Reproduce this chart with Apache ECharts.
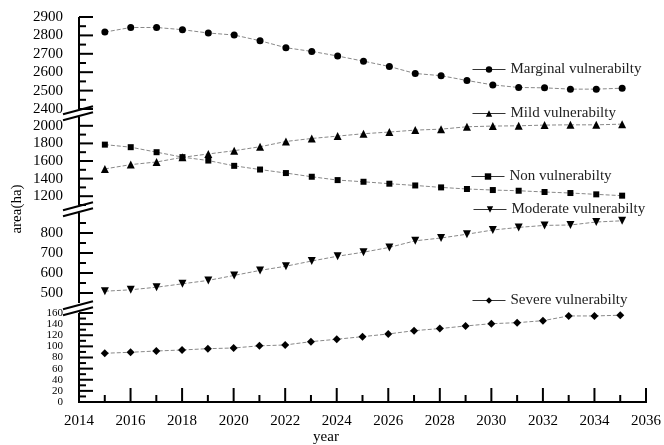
<!DOCTYPE html>
<html><head><meta charset="utf-8">
<script src="https://cdn.jsdelivr.net/npm/echarts@6/dist/echarts.min.js"></script>
<style>html,body{margin:0;padding:0;background:#fff}#c{width:664px;height:445px}</style>
</head><body><div id="c"></div>
<script>
// ---- data ----
const years = [2015,2016,2017,2018,2019,2020,2021,2022,2023,2024,2025,2026,2027,2028,2029,2030,2031,2032,2033,2034,2035];
const marginal = [2818,2843,2843,2831,2813,2802,2771,2733,2713,2688,2660,2631,2593,2581,2555,2531,2517,2515,2508,2508,2513];
const mild = [1510,1559,1589,1642,1680,1717,1762,1822,1856,1883,1910,1929,1951,1962,1989,1997,2000,2008,2011,2011,2019];
const nonV = [1786,1757,1700,1644,1605,1545,1503,1463,1421,1383,1364,1342,1322,1300,1282,1270,1262,1248,1236,1221,1206];
const moderate = [509,516,529,546,563,588,613,634,660,684,704,728,761,775,794,815,828,838,840,855,861];
const severe = [87.6,89.4,91.7,93.5,95.9,97.1,101,102.5,108.5,112.8,117.5,122.3,128.2,132,136.7,140.8,142.6,146.2,154.7,154.7,156];
const seriesNames = ['Marginal vulnerabilty','Mild vulnerabilty','Non vulnerabilty','Moderate vulnerabilty','Severe vulnerabilty'];

const xMajor = [2014,2016,2018,2020,2022,2024,2026,2028,2030,2032,2034,2036];
const xMinor = [2015,2017,2019,2021,2023,2025,2027,2029,2031,2033,2035];
const seg1Labels = [2400,2500,2600,2700,2800,2900];
const seg1Minor = [2450,2550,2650,2750,2850];
const seg2Labels = [1200,1400,1600,1800,2000];
const seg2Minor = [1100,1300,1500,1700,1900];
const seg3Labels = [500,600,700,800];
const seg3Minor = [550,650,750,850];
const seg4Labels = [0,20,40,60,80,100,120,140,160];
const seg4Minor = [10,30,50,70,90,110,130,150];

// ---- layout ----
const FONT = 'Liberation Serif';
const L = 79, W = 569;
const segs = [
  {min:2400, max:2900, top:17,  h:92, labels:seg1Labels, minor:seg1Minor, fs:15},
  {min:1100, max:2100, top:117, h:88, labels:seg2Labels, minor:seg2Minor, fs:15},
  {min:450,  max:900,  top:213, h:90, labels:seg3Labels, minor:seg3Minor, fs:15},
  {min:0,    max:160,  top:313, h:89, labels:seg4Labels, minor:seg4Minor, fs:11}
];

const grids = [], xAxes = [], yAxes = [];
segs.forEach((s, i) => {
  grids.push({left:L, width:W, top:s.top, height:s.h});
  const last = i === segs.length - 1;
  xAxes.push({
    gridIndex:i, type:'value', min:2014, max:2036, interval:2, show:last,
    axisLine:{show:false}, axisTick:{show:false}, minorTick:{show:false},
    axisLabel:{margin:12, color:'#000', fontFamily:FONT, fontSize:15, formatter: v => String(v),
      showMinLabel:true, showMaxLabel:true},
    splitLine:{show:false}, minorSplitLine:{show:false}
  });
  yAxes.push({
    gridIndex:i, type:'value', min:s.min, max:s.max, position:'left', offset:0,
    axisLine:{show:false}, axisTick:{show:false},
    axisLabel:{show:true, margin:16, color:'#000', fontFamily:FONT, fontSize:s.fs, lineHeight:s.fs - 2,
      customValues:s.labels, formatter: v => String(v), hideOverlap:false},
    splitLine:{show:false}
  });
});

const seriesData = [marginal, mild, nonV, moderate, severe];
const seriesGrid = [0, 1, 1, 2, 3];
const symbols = ['circle','triangle','rect','triangle','diamond'];
const symSizes = [7, 8, 6, 8, 8];
const symRot = [0, 0, 0, 180, 0];

const series = seriesData.map((vals, k) => ({
  name: seriesNames[k], type:'line',
  xAxisIndex: seriesGrid[k], yAxisIndex: seriesGrid[k],
  data: years.map((y, j) => [y, vals[j]]),
  symbol: symbols[k], symbolSize: symSizes[k], symbolRotate: symRot[k],
  lineStyle:{color:'#888', width:1, type:[4,2]},
  itemStyle:{color:'#000'}
}));

const legendPos = [[472,62],[472,106],[471,169],[473,202],[472,293]];
const legends = seriesNames.map((n, k) => ({
  data:[n], left:legendPos[k][0], top:legendPos[k][1], padding:0,
  itemWidth:33, itemHeight:8, selectedMode:false,
  lineStyle:{color:'#333', width:1, type:'solid'},
  textStyle:{fontFamily:FONT, fontSize:15, color:'#222'}
}));

// break marks and axis titles
const graphics = [];
for (let i = 0; i < segs.length - 1; i++) {
  const c = (segs[i].top + segs[i].h + segs[i+1].top) / 2;
  [-3, 3].forEach(d => {
    const y0 = c + d;
    graphics.push({type:'line', silent:true,
      shape:{x1:63, y1:y0 + (L-63)*8/30, x2:93, y2:y0 - (93-L)*8/30},
      style:{stroke:'#000', lineWidth:2}});
  });
}
graphics.push({type:'text', x:17, y:209, rotation:Math.PI/2,
  style:{text:'area(ha)', font:'15px "Liberation Serif"', fill:'#000', align:'center', verticalAlign:'middle'}});
graphics.push({type:'text', x:326, y:437,
  style:{text:'year', font:'15px "Liberation Serif"', fill:'#000', align:'center', verticalAlign:'middle'}});

const chart = echarts.init(document.getElementById('c'));
chart.setOption({
  animation:false,
  grid:grids, xAxis:xAxes, yAxis:yAxes, series:series, legend:legends, graphic:graphics
});

// axis lines and ticks, placed through the library's own scales (per-axis lookups)
function toY(i, v) {
  let p = null;
  try { p = chart.convertToPixel({yAxisIndex:i}, v); } catch (e) { p = null; }
  if (Array.isArray(p)) p = p[1];
  if (typeof p !== 'number' || !isFinite(p)) {
    const s = segs[i]; p = s.top + s.h * (s.max - v) / (s.max - s.min);
  }
  return p;
}
function toX(i, v) {
  let p = null;
  try { p = chart.convertToPixel({xAxisIndex:i}, v); } catch (e) { p = null; }
  if (Array.isArray(p)) p = p[0];
  if (typeof p !== 'number' || !isFinite(p)) p = L + W * (v - 2014) / (2036 - 2014);
  return p;
}

const axisG = [];
const st = {stroke:'#000', lineWidth:2};
segs.forEach((s, i) => {
  const ax = toX(i, 2014);
  axisG.push({type:'line', silent:true, z:10, shape:{x1:ax, y1:toY(i, s.max), x2:ax, y2:toY(i, s.min)}, style:st});
  s.labels.forEach(v => { const y = toY(i, v);
    axisG.push({type:'line', silent:true, z:10, shape:{x1:ax, y1:y, x2:ax + 14, y2:y}, style:st}); });
  s.minor.forEach(v => { const y = toY(i, v);
    axisG.push({type:'line', silent:true, z:10, shape:{x1:ax, y1:y, x2:ax + 7, y2:y}, style:st}); });
});
const gx = segs.length - 1;
const by = toY(gx, segs[gx].min);
axisG.push({type:'line', silent:true, z:10, shape:{x1:toX(gx, 2014) - 1, y1:by, x2:toX(gx, 2036) + 1, y2:by}, style:st});
xMajor.forEach(v => { const x = toX(gx, v);
  axisG.push({type:'line', silent:true, z:10, shape:{x1:x, y1:by, x2:x, y2:by - 14}, style:st}); });
xMinor.forEach(v => { const x = toX(gx, v);
  axisG.push({type:'line', silent:true, z:10, shape:{x1:x, y1:by, x2:x, y2:by - 7}, style:st}); });

chart.setOption({graphic: graphics.concat(axisG)});
</script></body></html>
